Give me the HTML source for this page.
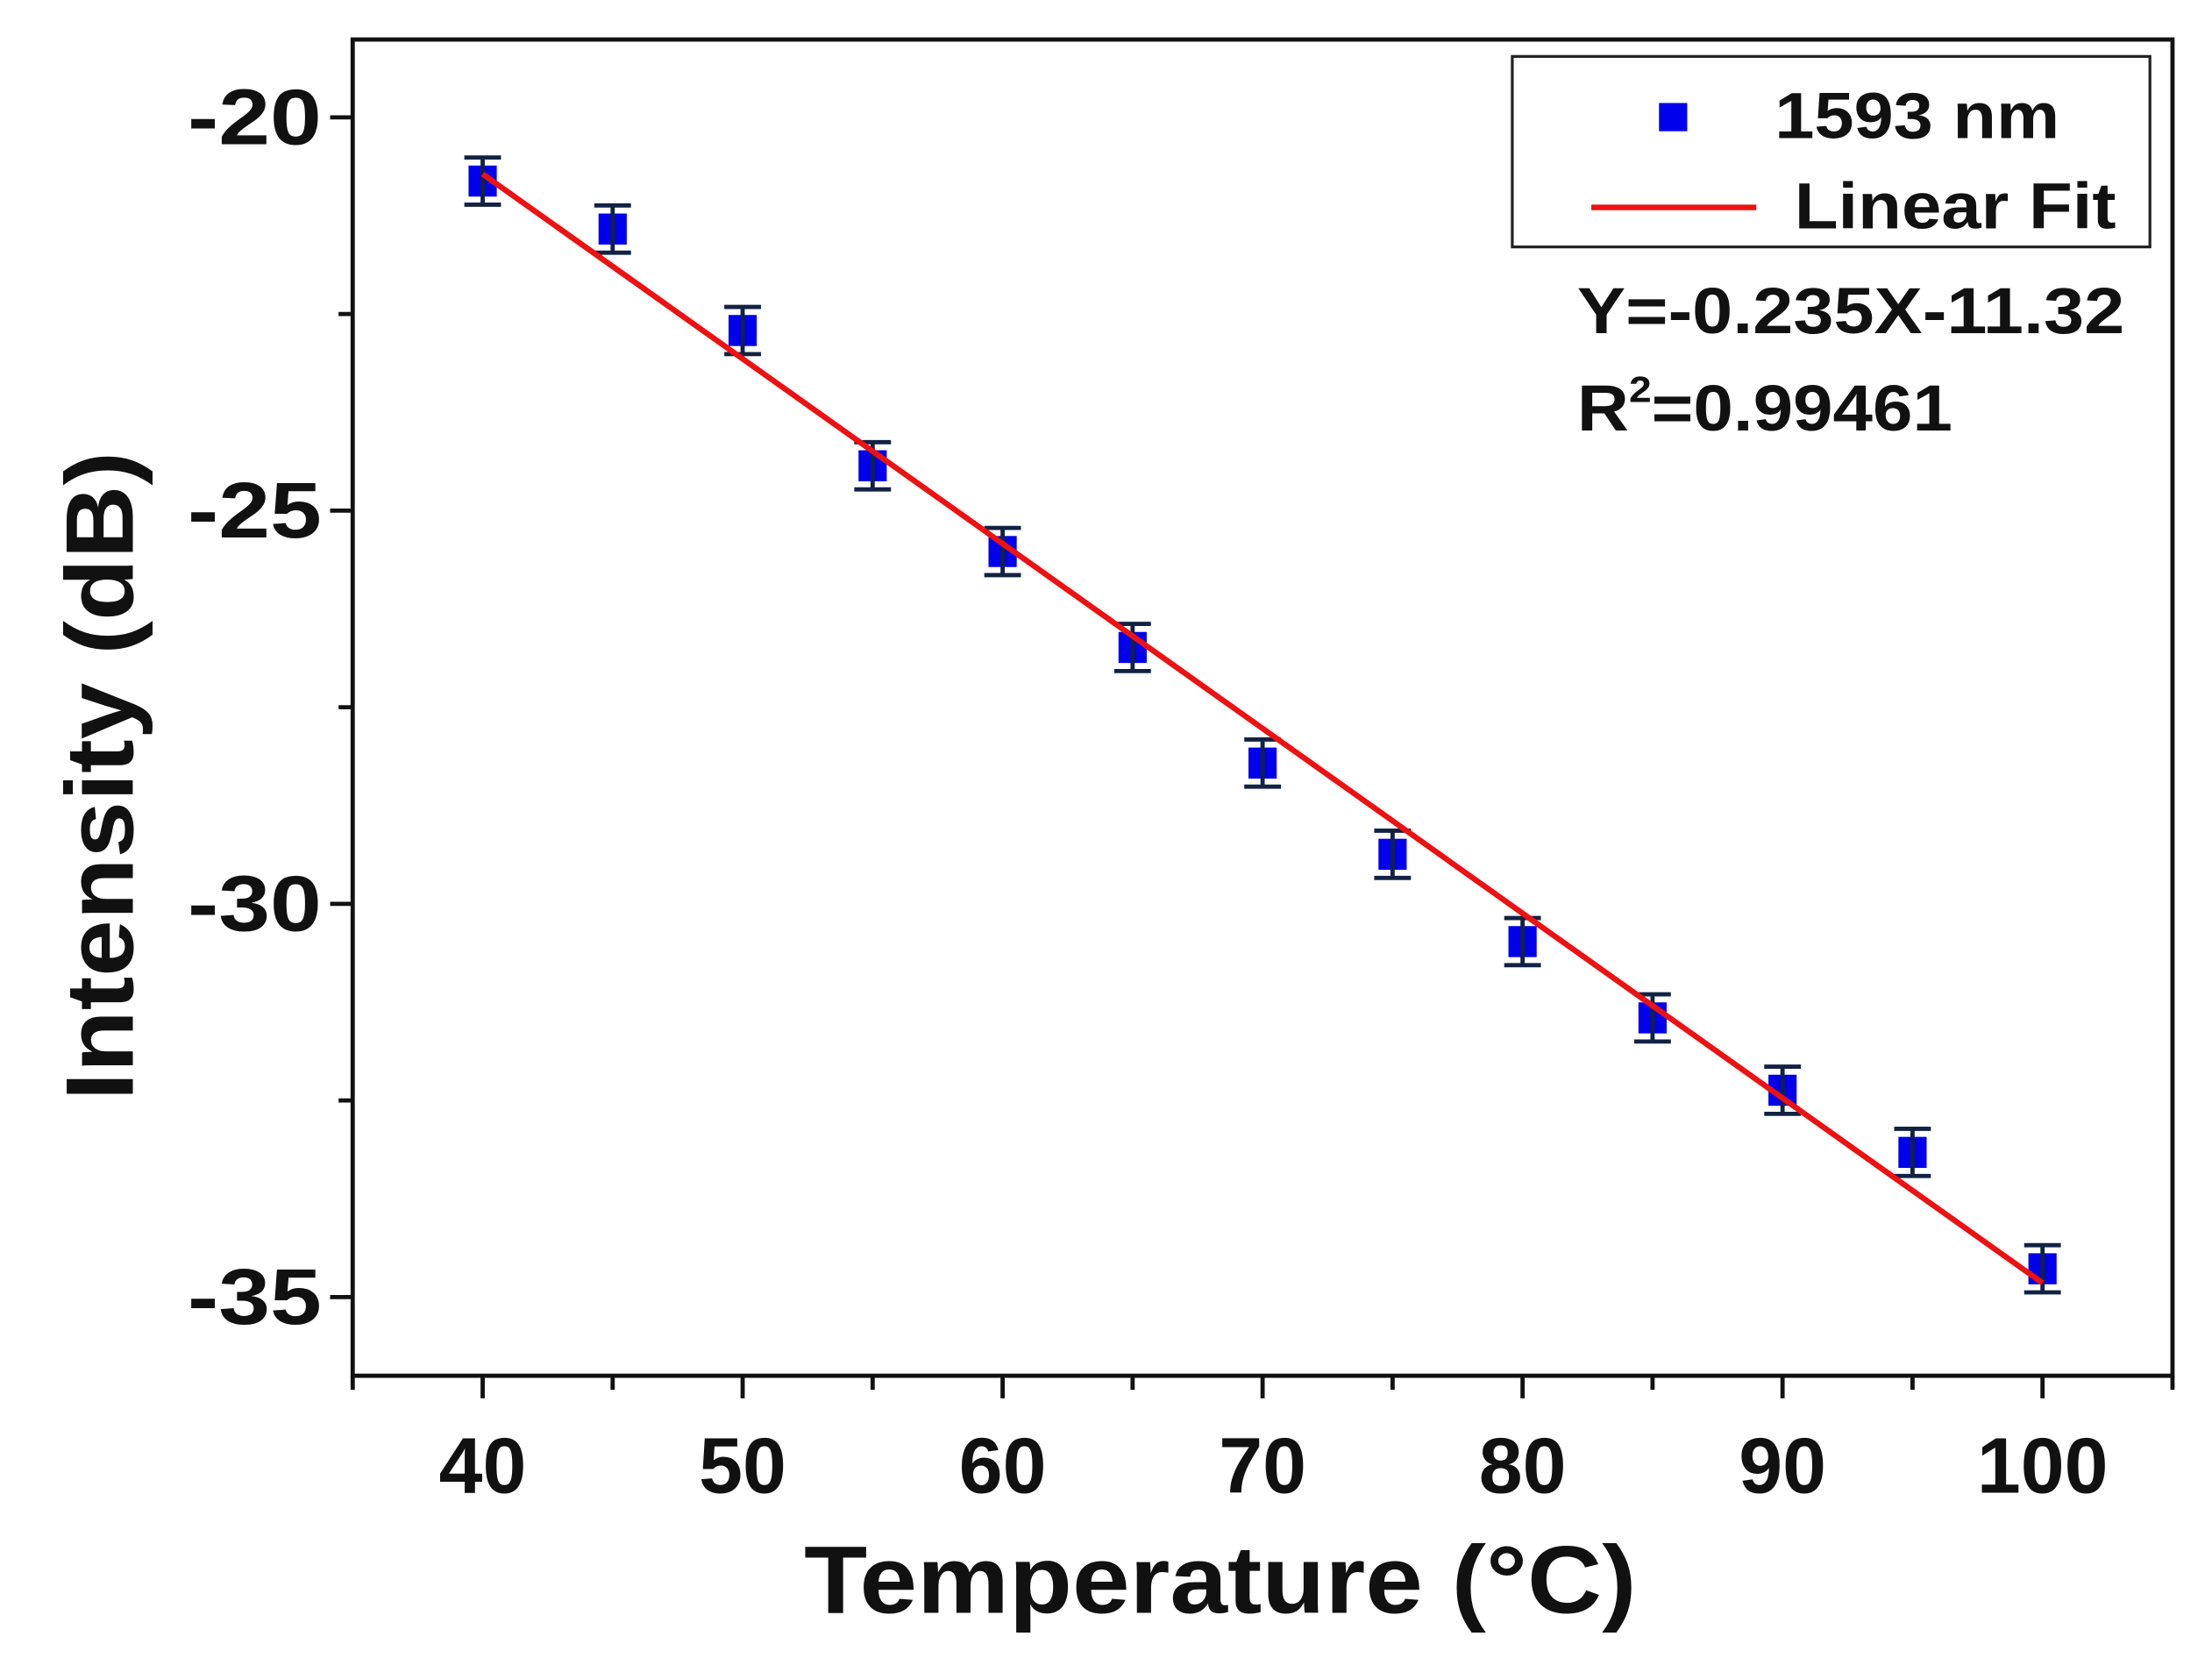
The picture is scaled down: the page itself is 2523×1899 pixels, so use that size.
<!DOCTYPE html>
<html><head><meta charset="utf-8"><style>html,body{margin:0;padding:0;background:#fff}svg{display:block}text{font-family:"Liberation Sans",Arial,sans-serif;font-weight:bold;fill:#111}</style></head>
<body>
<svg id="chart" width="2523" height="1899" viewBox="0 0 1568 1180" preserveAspectRatio="none" xmlns="http://www.w3.org/2000/svg">
<g id="axes"></g>
<g id="marks"></g>
<g>
<rect x="1072" y="40" width="452" height="135" fill="#fff" stroke="#222" stroke-width="2"/>
<rect x="1176" y="73" width="20" height="20" fill="#0000ee"/>
<text x="1258" y="98" font-size="46" textLength="202" lengthAdjust="spacingAndGlyphs">1593 nm</text>
<line x1="1128" y1="147" x2="1245" y2="147" stroke="#ee1111" stroke-width="4"/>
<text x="1272" y="162" font-size="46" textLength="228" lengthAdjust="spacingAndGlyphs">Linear Fit</text>
</g>
<text x="1118" y="236" font-size="46" textLength="388" lengthAdjust="spacingAndGlyphs">Y=-0.235X-11.32</text>
<text x="1118" y="305" font-size="46" textLength="266" lengthAdjust="spacingAndGlyphs">R<tspan font-size="26" dy="-20">2</tspan><tspan dy="20">=0.99461</tspan></text>
<text x="865" y="1143" font-size="68" text-anchor="middle" textLength="590" lengthAdjust="spacingAndGlyphs">Temperature (°C)</text>
<text transform="translate(94,550) rotate(-90)" font-size="68" text-anchor="middle" textLength="460" lengthAdjust="spacingAndGlyphs">Intensity (dB)</text>
</svg>
<script>
const temps = [40,45,50,55,60,65,70,75,80,85,90,95,100];
const intensity = [-20.81,-21.42,-22.71,-24.43,-25.52,-26.74,-28.21,-29.37,-30.48,-31.45,-32.37,-33.16,-34.64];
const errors = [0.3,0.3,0.3,0.3,0.3,0.3,0.3,0.3,0.3,0.3,0.3,0.3,0.3];
const fitSlope = -0.235;
const fitIntercept = -11.32;
const xTicks = [40,50,60,70,80,90,100];
const xMinor = [35,45,55,65,75,85,95,105];
const yTicks = [-20,-25,-30,-35];
const yMinor = [-22.5,-27.5,-32.5];
const X0=250,X1=1540,Y0=28,Y1=975, xmin=35,xmax=105,ymin=-36,ymax=-19.01;
const sx=v=>X0+(v-xmin)/(xmax-xmin)*(X1-X0);
const sy=v=>Y1-(v-ymin)/(ymax-ymin)*(Y1-Y0);
const NS='http://www.w3.org/2000/svg';
function mk(tag,attrs,parent,txt){const e=document.createElementNS(NS,tag);for(const k in attrs)e.setAttribute(k,attrs[k]);if(txt!==undefined)e.textContent=txt;parent.appendChild(e);return e;}
const axes=document.getElementById('axes'), marks=document.getElementById('marks');
let el=mk('rect',{x:X0,y:Y0,width:X1-X0,height:Y1-Y0,fill:'none',stroke:'#111','stroke-width':3},axes);


xTicks.forEach(v=>{
 let t=mk('line',{x1:sx(v),x2:sx(v),y1:Y1,y2:Y1+16,stroke:'#111','stroke-width':3},axes);
 
 
 const s=String(v);
 let l=mk('text',{x:sx(v),y:1058,'font-size':56,'text-anchor':'middle',textLength:s.length*31,lengthAdjust:'spacingAndGlyphs'},axes,s);
 
 
});
xMinor.forEach(v=>{
 let t=mk('line',{x1:sx(v),x2:sx(v),y1:Y1,y2:Y1+10,stroke:'#111','stroke-width':3},axes);
 
 
});
yTicks.forEach(v=>{
 let t=mk('line',{x1:X0-16,x2:X0,y1:sy(v),y2:sy(v),stroke:'#111','stroke-width':3},axes);
 
 
 let l=mk('text',{x:228,y:sy(v)+19,'font-size':56,'text-anchor':'end',textLength:95,lengthAdjust:'spacingAndGlyphs'},axes,String(v));
 
 
});
yMinor.forEach(v=>{
 let t=mk('line',{x1:X0-10,x2:X0,y1:sy(v),y2:sy(v),stroke:'#111','stroke-width':3},axes);
 
 
});
temps.forEach((t,i)=>{
 const x=sx(t),y=sy(intensity[i]);
 let m=mk('rect',{x:x-10,y:y-11,width:20,height:22,fill:'#0000ee'},marks);
 
 
 const yt=sy(intensity[i]+errors[i]), yb=sy(intensity[i]-errors[i]);
 let e=mk('path',{d:`M${x},${yt}V${yb}M${x-13},${yt}H${x+13}M${x-13},${yb}H${x+13}`,stroke:'#112244','stroke-width':3,fill:'none'},marks);
 
 
});
const fx0=temps[0], fx1=temps[temps.length-1];
let fl=mk('line',{x1:sx(fx0),y1:sy(fitSlope*fx0+fitIntercept),x2:sx(fx1),y2:sy(fitSlope*fx1+fitIntercept),stroke:'#ee1111','stroke-width':4},marks);


</script>
</body></html>
